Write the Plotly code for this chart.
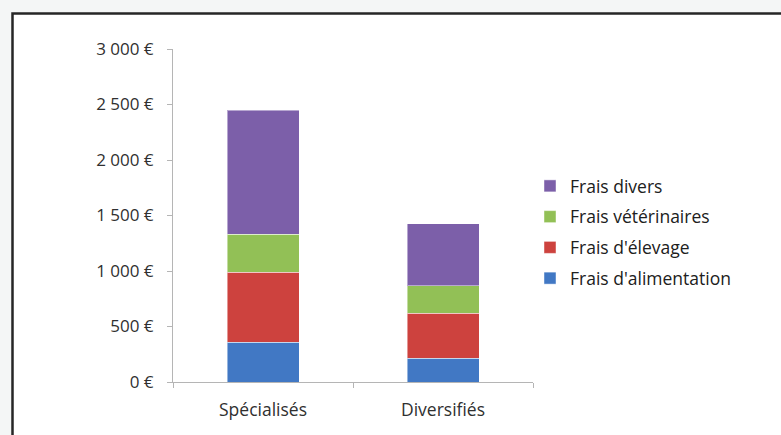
import plotly.graph_objects as go

categories = ["Spécialisés", "Diversifiés"]
series_names = ["Frais d'alimentation", "Frais d'élevage", "Frais vétérinaires", "Frais divers"]
alimentation = [360, 215]
elevage = [630, 405]
veterinaires = [340, 245]
divers = [1120, 560]
series_values = [alimentation, elevage, veterinaires, divers]
colors = ["#4178c4", "#cd423e", "#92c056", "#7c5fa9"]

y_tickvals = [0, 500, 1000, 1500, 2000, 2500, 3000]
y_ticktext = ["0 €", "500 €", "1 000 €", "1 500 €", "2 000 €", "2 500 €", "3 000 €"]

FONT = "Open Sans"

fig = go.Figure()
n = len(series_names)
for i, (name, vals, col) in enumerate(zip(series_names, series_values, colors)):
    fig.add_trace(go.Bar(
        x=categories, y=vals, name=name, legendgroup=name, legendrank=n - i,
        marker=dict(color=col, line=dict(color="rgba(255,255,255,0.45)", width=1)),
    ))

# plot area: x 173..533 px, y 49..382 px
L, R, T, B = 173, 781 - 533, 49, 435 - 382
PW, PH = 781 - L - R, 435 - T - B

def px(x):
    return (x - L) / PW

def py(y):
    return (435 - B - y) / PH

fig.update_layout(
    width=781, height=435,
    margin=dict(l=L, r=R, t=T, b=B, pad=0),
    barmode="stack", bargap=0.6,
    paper_bgcolor="#f4f6f6", plot_bgcolor="white",
    font=dict(family=FONT, size=14, color="#303030"),
    showlegend=True,
    legend=dict(
        traceorder="grouped", x=px(530), y=py(168), xanchor="left", yanchor="top",
        font=dict(family=FONT, size=17.5, color="#202020"), tracegroupgap=5,
        bgcolor="rgba(0,0,0,0)",
    ),
    shapes=[
        dict(type="rect", xref="paper", yref="paper", layer="below",
             x0=px(12.5), x1=px(800), y0=py(13.5), y1=py(460),
             fillcolor="white", line=dict(color="#262626", width=2.5)),
    ],
    xaxis=dict(
        showline=True, linecolor="#b5b5b5", linewidth=1,
        ticks="outside", ticklen=5, tickcolor="#b5b5b5", tickson="boundaries",
        ticklabelstandoff=12, tickfont=dict(family=FONT, size=17.5, color="#303030"),
        showgrid=False, range=[-0.5, 1.5],
    ),
    yaxis=dict(
        range=[0, 3000], tickvals=y_tickvals, ticktext=y_ticktext,
        showline=True, linecolor="#b5b5b5", linewidth=1,
        ticks="outside", ticklen=5, tickcolor="#b5b5b5",
        ticklabelstandoff=10, tickfont=dict(family=FONT, size=17, color="#303030"),
        showgrid=False, zeroline=False,
    ),
)

fig.write_html("out.html", config={"displayModeBar": False},
               post_script="document.body.style.margin='0';")
